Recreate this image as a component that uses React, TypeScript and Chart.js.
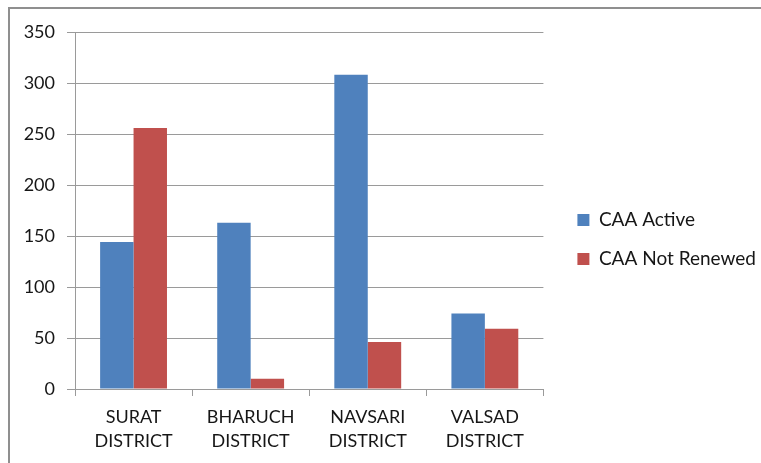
import React, { useEffect, useRef } from "react";
import { Chart, registerables } from "chart.js";

Chart.register(...registerables);

const categories: string[][] = [
  ["SURAT", "DISTRICT"],
  ["BHARUCH", "DISTRICT"],
  ["NAVSARI", "DISTRICT"],
  ["VALSAD", "DISTRICT"],
];
const seriesNames = ["CAA Active", "CAA Not Renewed"];
const caaActive = [144, 163, 308, 74];
const caaNotRenewed = [256, 10, 46, 59];
const yMin = 0;
const yMax = 350;
const yStep = 50;

const FONT = "Lato, 'Liberation Sans', sans-serif";
const TEXT = "#161616";
const GRID = "#9a9a9a";

export default function App() {
  const ref = useRef<HTMLCanvasElement | null>(null);

  useEffect(() => {
    if (!ref.current) return;
    const chart = new Chart(ref.current, {
      type: "bar",
      data: {
        labels: categories,
        datasets: [
          {
            label: seriesNames[0],
            data: caaActive,
            backgroundColor: "#4F81BD",
            borderWidth: 0,
          },
          {
            label: seriesNames[1],
            data: caaNotRenewed,
            backgroundColor: "#C0504D",
            borderWidth: 0,
          },
        ],
      },
      options: {
        responsive: false,
        animation: false,
        devicePixelRatio: 1,
        layout: { padding: { top: 32, left: 0, right: -5, bottom: 16 } },
        datasets: {
          bar: { categoryPercentage: 0.571, barPercentage: 1 },
        },
        plugins: {
          title: { display: false },
          tooltip: { enabled: false },
          legend: {
            position: "right",
            maxWidth: 300,
            labels: {
              boxWidth: 12,
              boxHeight: 12,
              padding: 20,
              color: TEXT,
              font: { family: FONT, size: 19 },
            },
          },
        },
        scales: {
          x: {
            grid: {
              display: true,
              drawOnChartArea: false,
              drawTicks: true,
              tickLength: 7,
              color: GRID,
              offset: true,
            },
            border: { display: true, color: GRID },
            ticks: {
              color: TEXT,
              padding: 9,
              maxRotation: 0,
              font: { family: FONT, size: 18, lineHeight: 1.35 },
            },
            afterFit: (s: any) => {
              s.height = 58;
            },
          },
          y: {
            min: yMin,
            max: yMax,
            ticks: {
              stepSize: yStep,
              color: TEXT,
              padding: 12,
              font: { family: FONT, size: 18 },
            },
            grid: { color: GRID, tickLength: 8, drawTicks: true },
            border: { display: true, color: GRID },
            afterFit: (s: any) => {
              s.width = 75;
            },
          },
          y2: {
            type: "linear",
            position: "right",
            display: true,
            grid: { display: false, drawTicks: false },
            border: { display: false },
            ticks: { display: false },
            afterFit: (s: any) => {
              s.width = 14;
            },
          },
        },
      },
    });
    return () => chart.destroy();
  }, []);

  return (
    <div
      style={{
        position: "fixed",
        left: 0,
        top: 0,
        width: 761,
        height: 463,
        background: "#ffffff",
        overflow: "hidden",
      }}
    >
      <div
        style={{
          position: "absolute",
          left: 8,
          top: 7,
          right: -10,
          bottom: -10,
          borderTop: "2px solid #8f8f8f",
          borderLeft: "2px solid #8f8f8f",
        }}
      />
      <canvas
        ref={ref}
        width={761}
        height={463}
        style={{ position: "absolute", left: 0, top: 0, width: 761, height: 463 }}
      />
    </div>
  );
}
